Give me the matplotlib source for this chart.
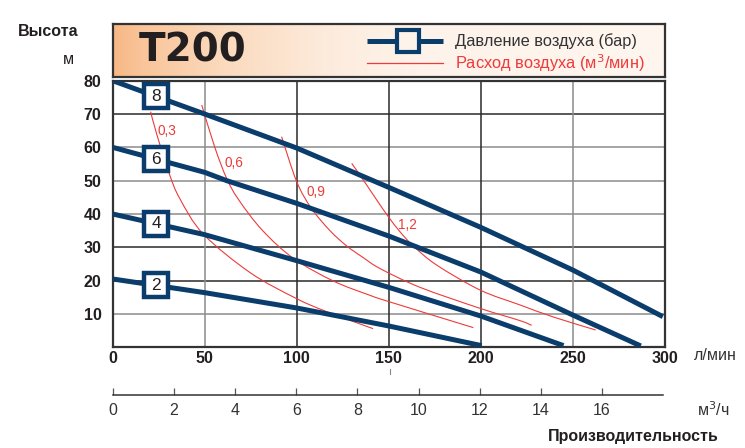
import numpy as np
import matplotlib
matplotlib.use("Agg")
import matplotlib.pyplot as plt
from matplotlib.lines import Line2D
from matplotlib.path import Path
from matplotlib.patches import PathPatch

plt.rcParams['font.family'] = ['Liberation Sans', 'DejaVu Sans']

# ---------------- data ----------------
title = "T200"
x_ticks_lmin = [0, 50, 100, 150, 200, 250, 300]
y_ticks = [10, 20, 30, 40, 50, 60, 70, 80]
x_ticks_m3h = [0, 2, 4, 6, 8, 10, 12, 14, 16]

# air pressure curves (bar): flow l/min -> head m
p8_x = [0, 50, 100, 150, 200, 250, 299]
p8_y = [80, 70, 59.8, 48.0, 36.0, 23.2, 9.2]
p6_x = [0, 50, 62, 100, 150, 200, 250, 287]
p6_y = [60, 52.5, 50.0, 43.2, 33.4, 22.6, 9.7, 0.4]
p4_x = [0, 50, 100, 150, 200, 245]
p4_y = [40, 33.8, 26.0, 18.0, 9.4, 0.5]
p2_x = [0, 50, 100, 150, 200.5]
p2_y = [20.5, 16.4, 11.8, 6.4, 0.5]
pressure_labels = ["8", "6", "4", "2"]

# air consumption curves (m3/min)
c03_x = [20.6, 23.9, 30.8, 36.6, 49.2, 74.7, 99.6, 116.3, 141.5]
c03_y = [70.7, 64.0, 52.0, 44.5, 34.0, 22.4, 14.7, 10.7, 5.6]
c06_x = [48.4, 55.5, 62.0, 68.3, 81.2, 98.2, 119.9, 139.8, 150.7, 196.0]
c06_y = [72.7, 60.0, 50.6, 44.4, 35.2, 26.7, 19.9, 15.6, 13.6, 5.9]
c09_x = [91.8, 100.0, 108.0, 118.1, 127.2, 136.2, 145.4, 167.0, 199.6, 221.4, 227.7]
c09_y = [63.2, 49.7, 41.7, 35.0, 30.4, 26.9, 23.6, 18.0, 11.7, 8.0, 6.6]
c12_x = [129.9, 136.2, 143.5, 149.8, 156.1, 163.4, 176.0, 199.6, 221.4, 240.0, 262.5]
c12_y = [55.2, 50.2, 44.2, 39.2, 34.7, 30.4, 24.7, 17.2, 12.7, 9.0, 5.2]
air_labels = ["0,3", "0,6", "0,9", "1,2"]
air_label_x = [24.2, 61.0, 105.4, 155.2]
air_label_y = [64.9, 55.4, 46.5, 36.7]

# ---------------- style ----------------
W, H = 745, 448
BLUE = '#0a3c6c'
RED = '#ee3a3a'
DARK = '#231f20'
GRID_D = '#2a2a2a'
GRID_L = '#8c8c8c'

fig = plt.figure(figsize=(W / 100, H / 100), dpi=100)


def fx(px):
    return px / W


def fy(py):
    return 1 - py / H


def smooth_path(xs, ys):
    """Catmull-Rom spline through the given points as cubic Bezier path."""
    p = np.column_stack([xs, ys]).astype(float)
    n = len(p)
    verts = [p[0]]
    codes = [Path.MOVETO]
    for i in range(n - 1):
        p0 = p[i - 1] if i > 0 else p[i]
        p1, p2 = p[i], p[i + 1]
        p3 = p[i + 2] if i + 2 < n else p[i + 1]
        c1 = p1 + (p2 - p0) / 6.0
        c2 = p2 - (p3 - p1) / 6.0
        verts += [c1, c2, p2]
        codes += [Path.CURVE4] * 3
    return Path(verts, codes)


# main axes (pixel box)
L, R, T, B = 112.7, 664.7, 80.7, 347.3
ax = fig.add_axes([fx(L), fy(B), fx(R - L), (B - T) / H])
ax.set_xlim(0, 300)
ax.set_ylim(0, 80)

# grid
dark_h = [70, 30, 20]
for yv in [10, 20, 30, 40, 50, 60, 70]:
    ax.axhline(yv, color=GRID_D if yv in dark_h else GRID_L, lw=1.1, zorder=1)
dark_v = [100, 150, 200]
for xv in [50, 100, 150, 200, 250]:
    ax.axvline(xv, color=GRID_D if xv in dark_v else GRID_L, lw=1.1, zorder=1)

# air consumption curves
for cx, cy in [(c03_x, c03_y), (c06_x, c06_y), (c09_x, c09_y), (c12_x, c12_y)]:
    ax.add_patch(PathPatch(smooth_path(cx, cy), facecolor='none', edgecolor=RED,
                           lw=0.8, zorder=2))
for lab, lx, ly in zip(air_labels, air_label_x, air_label_y):
    ax.text(lx, ly, lab, color=RED, fontsize=9.8, ha='left', va='center', zorder=3)

# pressure curves
series = [(p8_x, p8_y), (p6_x, p6_y), (p4_x, p4_y), (p2_x, p2_y)]
for (px_, py_), lab in zip(series, pressure_labels):
    ax.plot(px_, py_, color=BLUE, lw=3.6, solid_capstyle='butt', zorder=4)
    mx = 23.5
    my = float(np.interp(mx, px_, py_))
    ax.plot([mx], [my], marker='s', ms=16.8, mfc='white', mec=BLUE, mew=3.2,
            zorder=5, clip_on=False)
    ax.text(mx, my, lab, ha='center', va='center', fontsize=12.5, color=DARK,
            zorder=6)

for s in ax.spines.values():
    s.set_color('#333333')
    s.set_linewidth(1.6)
ax.set_xticks(x_ticks_lmin)
ax.set_yticks(y_ticks)
ax.set_xticklabels([str(v) for v in x_ticks_lmin], fontweight='bold', fontsize=11.5, color=DARK)
ax.set_yticklabels([str(v) for v in y_ticks], fontweight='bold', fontsize=11.5, color=DARK)
ax.tick_params(axis='both', length=0)
ax.tick_params(axis='x', pad=3)
ax.tick_params(axis='y', pad=8)

# secondary m3/h axis
ax2 = fig.add_axes([fx(L), fy(395), fx(R - L - 1.5), 0.001])
ax2.set_xlim(0, 18)
ax2.set_ylim(0, 1)
for k in ['top', 'left', 'right']:
    ax2.spines[k].set_visible(False)
ax2.spines['bottom'].set_color('#333333')
ax2.spines['bottom'].set_linewidth(1.1)
ax2.set_yticks([])
ax2.set_xticks(x_ticks_m3h)
ax2.set_xticklabels([str(v) for v in x_ticks_m3h], fontsize=11.5, color='#333333')
ax2.tick_params(axis='x', direction='in', length=5, width=0.9, color='#555555', pad=6)
ax2.patch.set_alpha(0)

# header box with gradient
axh = fig.add_axes([fx(L), fy(77), fx(R - L), 53 / H])
xs = np.linspace(0, 1, 400)
stops_x = [0.0, 0.05, 0.2, 0.4, 0.55, 1.0]
cols = np.array([[247, 184, 132], [249, 196, 153], [251, 218, 190],
                 [253, 236, 222], [254, 243, 234], [254, 246, 239]]) / 255.0
grad = np.stack([np.interp(xs, stops_x, cols[:, i]) for i in range(3)], axis=-1)
axh.imshow(grad[None, :, :], aspect='auto', extent=[0, 1, 0, 1])
axh.set_xlim(0, 1)
axh.set_ylim(0, 1)
axh.set_xticks([])
axh.set_yticks([])
for s in axh.spines.values():
    s.set_color('#333333')
    s.set_linewidth(1.6)
fig.text(fx(139), fy(51), title, fontsize=28, fontweight='heavy', color=DARK,
         family='DejaVu Sans', ha='left', va='center')

# legend inside header
fig.add_artist(Line2D([fx(367), fx(443)], [fy(40.7), fy(40.7)], color=BLUE, lw=3.6,
                      solid_capstyle='butt', zorder=10))
fig.add_artist(Line2D([fx(407.5)], [fy(40.7)], marker='s', ms=15.5, mfc='#fdf3ea',
                      mec=BLUE, mew=3.0, zorder=11))
fig.text(fx(455), fy(41), "Давление воздуха (бар)", fontsize=11.8, color='#333333',
         ha='left', va='center', zorder=12)
fig.add_artist(Line2D([fx(367), fx(443)], [fy(63.3), fy(63.3)], color=RED, lw=0.9,
                      zorder=10))
fig.text(fx(455), fy(63.5), "Расход воздуха (м$^3$/мин)", fontsize=11.8, color=RED,
         ha='left', va='center', zorder=12)

# axis titles / units
fig.text(fx(48), fy(32), "Высота", fontsize=11.5, fontweight='bold', color=DARK,
         ha='center', va='center')
fig.text(fx(68), fy(60), "м", fontsize=11.5, color=DARK, ha='center', va='center')
fig.text(fx(694), fy(355.5), "л/мин", fontsize=11.5, color='#333333', ha='left', va='center')
fig.text(fx(697), fy(410), "м$^3$/ч", fontsize=11.5, color='#333333', ha='left', va='center')
fig.text(fx(719), fy(436), "Производительность", fontsize=11.5, fontweight='bold',
         color=DARK, ha='right', va='center')
# small stray tick mark below the 150 label
fig.add_artist(Line2D([fx(390), fx(390)], [fy(369), fy(374)], color='#888888', lw=0.8))

fig.savefig("out.png", dpi=100)
